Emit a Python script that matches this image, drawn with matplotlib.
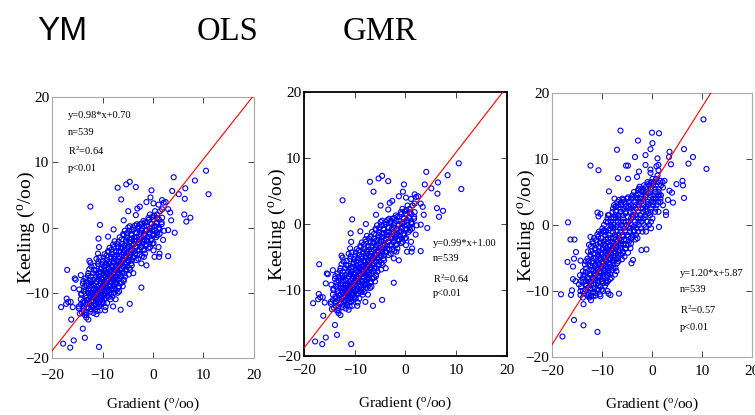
import matplotlib
matplotlib.use('Agg')
import matplotlib.pyplot as plt
import numpy as np

plt.rcParams['font.family'] = ['Liberation Serif', 'DejaVu Serif']
plt.rcParams['mathtext.fontset'] = 'custom'
plt.rcParams['mathtext.rm'] = 'Liberation Serif'
plt.rcParams['mathtext.it'] = 'Liberation Serif:italic'

# gradient values shared by the YM and OLS panels
gradient = [
    -14.6, -14.3, -14.7, -13.9, -14.2, -13.8, -14.1,
    -13.4, -13.6, -13.3, -13.7, -13.5,
    -12.9, -13.2, -12.8, -13.1, -12.9, -13.2,
    -12.6, -12.4, -12.7, -12.3, -12.6, -12.4,
    -11.9, -12.2, -11.8, -12.1, -11.9, -12.2, -11.8,
    -11.6, -11.3, -11.7, -11.4, -11.6, -11.3, -11.5,
    -10.9, -11.2, -10.8, -11.1, -10.9, -11.2, -10.8, -11.0,
    -10.6, -10.3, -10.7, -10.4, -10.6, -10.3, -10.5, -10.7,
    -9.9, -10.2, -9.8, -10.1, -9.9, -10.2, -9.8, -10.0,
    -9.6, -9.3, -9.7, -9.4, -9.6, -9.3, -9.5, -9.7, -9.4,
    -8.9, -9.2, -8.8, -9.1, -8.9, -9.2, -8.8, -9.0, -9.1,
    -8.6, -8.3, -8.7, -8.4, -8.6, -8.3, -8.5, -8.7, -8.4,
    -7.9, -8.2, -7.8, -8.1, -7.9, -8.2, -7.8, -8.0, -8.1,
    -7.6, -7.3, -7.7, -7.4, -7.6, -7.3, -7.5, -7.7, -7.4,
    -6.9, -7.2, -6.8, -7.1, -6.9, -7.2, -6.8, -7.0,
    -6.6, -6.3, -6.7, -6.4, -6.6, -6.3, -6.5, -6.7,
    -5.9, -6.2, -5.8, -6.1, -5.9, -6.2, -5.8, -6.0,
    -5.6, -5.3, -5.7, -5.4, -5.6, -5.3, -5.5,
    -4.9, -5.2, -4.8, -5.1, -4.9, -5.2, -4.8,
    -4.6, -4.3, -4.7, -4.4, -4.6, -4.3, -4.5,
    -3.9, -4.2, -3.8, -4.1, -3.9, -4.2,
    -3.6, -3.3, -3.7, -3.4, -3.6, -3.3,
    -2.9, -3.2, -2.8, -3.1, -2.9,
    -2.6, -2.3, -2.7, -2.4, -2.6, -2.3,
    -1.9, -2.2, -1.8, -2.1, -1.9,
    -1.6, -1.3, -1.7, -1.4, -1.6,
    -0.9, -1.2, -0.8, -1.1, -0.9,
    -0.6, -0.3, -0.7, -0.4, -0.6,
    0.1, -0.2, 0.2, -0.1, 0.1,
    0.4, 0.7, 0.3, 0.6, 1.1, 0.8, 1.2, 0.9, 1.1,
    1.4, 1.7, 1.3, 2.1, 1.8, 2.2,
    10.5, 11.0, 8.3, 4.1, 3.8, 5.1, 6.4, 6.3, 6.2, 6.6,
    7.4, 4.3, 3.4, 3.0, 2.5, 1.8, 3.0, -0.3, 0.1, -0.5,
    -1.3, -2.6, -3.4, -3.1, -3.4, -4.6, -5.3, -4.9, -7.0, -6.3,
    -5.8, -7.8, -8.9, -10.5, -10.8, -12.4, -10.7, -10.9, -12.6, -12.4,
    -17.0, -14.3, -15.5, -15.3, -15.7, -17.1, -16.3, -17.2, -16.8, -18.2,
    -15.9, -16.2, -13.9, -13.5, -15.7, -17.8, -16.4, -10.7, -6.4, -4.6,
    -2.3, -3.9, -14.7, -14.5, -13.2, -12.8, -11.2, -10.5, -9.5, -7.9,
    1.2, 1.3, 0.3, -1.3, -1.8, 0.1, 2.0, 3.0, 3.6, 1.1,
    # points between the columns above
    -14.2, -14.3,
    -13.8, -13.7, -13.8, -13.7,
    -13.2, -13.3, -13.2, -13.3, -13.2,
    -12.8, -12.7, -12.8, -12.7, -12.8,
    -12.2, -12.3, -12.2, -12.3, -12.2, -12.3,
    -11.7, -11.8, -11.7, -11.8, -11.7, -11.8,
    -11.2, -11.3, -11.2, -11.3, -11.2, -11.3, -11.2,
    -10.8, -10.7, -10.8, -10.7, -10.8, -10.7, -10.8,
    -10.2, -10.3, -10.2, -10.3, -10.2, -10.3, -10.2, -10.3,
    -9.8, -9.7, -9.8, -9.7, -9.8, -9.7, -9.8,
    -9.2, -9.3, -9.2, -9.3, -9.2, -9.3, -9.2, -9.3,
    -8.8, -8.7, -8.8, -8.7, -8.8, -8.7, -8.8, -8.7,
    -8.2, -8.3, -8.2, -8.3, -8.2, -8.3, -8.2, -8.3,
    -7.8, -7.7, -7.8, -7.7, -7.8, -7.7, -7.8, -7.7,
    -7.2, -7.3, -7.2, -7.3, -7.2, -7.3, -7.2, -7.3,
    -6.8, -6.7, -6.8, -6.7, -6.8, -6.7, -6.8,
    -6.2, -6.3, -6.2, -6.3, -6.2, -6.3, -6.2,
    -5.8, -5.7, -5.8, -5.7, -5.8, -5.7, -5.8,
    -5.2, -5.3, -5.2, -5.3, -5.2, -5.3,
    -4.8, -4.7, -4.8, -4.7, -4.8, -4.7,
    -4.2, -4.3, -4.2, -4.3, -4.2,
    -3.8, -3.7, -3.8, -3.7, -3.8,
    -3.2, -3.3, -3.2, -3.3, -3.2,
    -2.8, -2.7, -2.8, -2.7,
    -2.2, -2.3, -2.2, -2.3, -2.2,
    -1.8, -1.7, -1.8, -1.7,
    -1.2, -1.3, -1.2, -1.3,
    -0.8, -0.7, -0.8, -0.7,
    -0.2, -0.3, -0.2, -0.3,
    0.2, 0.3, 0.2,
    0.8, 0.7, 0.8,
    1.2, 1.3,
    1.8, 1.7,
]

keeling_ym = [
    -9.5, -11.0, -12.4, -8.6, -10.1, -11.6, -13.0,
    -7.8, -9.1, -10.5, -12.1, -13.4,
    -7.4, -8.9, -10.0, -11.1, -12.4, -13.8,
    -6.4, -8.1, -9.4, -10.6, -11.6, -12.9,
    -7.0, -8.4, -9.6, -10.2, -11.1, -12.0, -13.1,
    -5.9, -7.6, -8.8, -9.9, -10.7, -11.8, -12.6,
    -5.6, -7.1, -8.0, -9.1, -10.0, -10.9, -11.6, -12.8,
    -4.6, -6.4, -7.5, -8.6, -9.3, -10.3, -11.1, -12.1,
    -5.1, -6.1, -7.0, -8.0, -8.9, -9.6, -10.5, -11.4,
    -4.1, -5.5, -6.6, -7.5, -8.3, -9.1, -10.1, -11.0, -12.2,
    -3.6, -5.0, -6.1, -7.0, -7.8, -8.6, -9.5, -10.4, -11.6,
    -3.1, -4.5, -5.6, -6.5, -7.4, -8.2, -9.1, -10.0, -11.0,
    -2.6, -4.0, -5.1, -6.0, -7.0, -7.8, -8.7, -9.5, -10.6,
    -2.1, -3.6, -4.8, -5.8, -6.8, -7.6, -8.5, -9.4, -11.0,
    -3.0, -4.2, -5.2, -6.2, -7.1, -8.0, -9.0, -10.0,
    -1.5, -3.0, -4.5, -5.5, -6.5, -7.5, -8.6, -9.8,
    -1.0, -2.5, -3.8, -5.0, -6.0, -7.0, -8.0, -9.0,
    -0.5, -2.0, -3.5, -4.5, -5.5, -6.6, -7.5,
    0.0, -1.5, -2.8, -4.0, -5.0, -6.0, -7.2,
    0.2, -1.0, -2.2, -3.5, -4.5, -5.5, -6.5,
    0.0, -1.2, -2.5, -3.5, -4.5, -5.8,
    0.3, -0.8, -2.0, -3.0, -4.0, -5.0,
    0.0, -1.5, -2.5, -3.5, -4.8,
    0.5, -0.5, -1.8, -3.0, -4.2, -5.5,
    1.0, -0.2, -1.2, -2.5, -3.5,
    0.8, -0.5, -1.8, -2.8, -4.0,
    1.5, 0.2, -1.0, -2.0, -3.2,
    2.0, 0.5, -0.8, -2.0, -3.0,
    1.2, 0.0, -1.2, -2.5, -3.5,
    2.5, 0.8, -0.5, -1.5, 3.5, 1.5, 0.0, -1.2, -3.0,
    2.5, 0.5, -1.0, 3.8, 1.5, -0.5,
    8.7, 5.1, 7.2, 7.7, 5.6, 5.1, 6.0, 4.4, 2.0, 0.9,
    1.5, -0.8, 2.3, 2.8, 3.9, 4.2, -4.4, 5.7, 3.7, 4.6,
    3.9, 3.2, 1.9, 2.9, 6.2, 7.0, 6.6, 2.5, 6.1, 4.3,
    1.1, -0.3, -1.4, 0.4, -1.7, 3.2, -3.0, -4.0, -5.1, -5.4,
    -6.5, -7.3, -7.8, -8.0, -9.3, -10.9, -11.4, -11.7, -11.4, -12.2,
    -12.2, -14.1, -15.5, -16.9, -17.3, -17.8, -18.4, -18.3, -12.6, -11.7,
    -9.2, -7.0, -12.1, -13.2, -13.4, -14.1, -13.3, -12.7, -12.7, -12.1,
    -4.5, -4.0, -4.5, -5.8, -4.5, -2.4, -1.9, -0.4, 1.1, -0.2,
    -10.3, -11.8,
    -8.2, -9.8, -11.3, -12.7,
    -8.3, -9.5, -10.8, -11.8, -13.0,
    -7.0, -8.6, -9.7, -11.0, -12.2,
    -6.0, -7.5, -8.9, -10.0, -11.4, -12.5,
    -6.5, -8.0, -9.3, -10.4, -11.3, -12.3,
    -4.8, -6.6, -8.3, -9.5, -10.4, -11.3, -12.2,
    -5.2, -6.9, -7.9, -8.9, -9.7, -10.6, -11.5,
    -5.6, -6.8, -7.8, -8.3, -9.2, -10.0, -10.8, -11.8,
    -4.6, -6.0, -7.3, -8.5, -9.4, -10.3, -11.6,
    -4.3, -5.8, -6.9, -7.4, -8.2, -9.0, -9.8, -10.8,
    -3.8, -5.2, -6.4, -7.2, -8.0, -8.9, -9.7, -10.6,
    -3.4, -4.8, -5.9, -6.8, -7.5, -8.4, -9.3, -10.2,
    -3.0, -4.4, -5.4, -6.4, -7.3, -8.1, -9.0, -10.0,
    -2.5, -3.8, -5.0, -6.0, -6.6, -7.6, -8.6, -9.6,
    -2.2, -3.6, -4.8, -5.8, -6.8, -7.8, -9.2,
    -1.8, -3.2, -4.2, -5.3, -6.4, -7.4, -8.4,
    -1.2, -2.8, -4.0, -5.0, -6.0, -7.0, -8.2,
    -0.9, -2.4, -3.2, -4.3, -5.4, -6.4,
    -0.5, -1.8, -3.0, -4.2, -5.2, -6.2,
    -0.4, -1.7, -2.8, -4.0, -5.0,
    -0.3, -1.5, -2.6, -3.6, -4.6,
    0.5, -0.9, -2.0, -3.0, -4.2,
    0.2, -1.0, -2.2, -3.4,
    0.6, -0.8, -2.0, -3.0, -4.4,
    0.2, -1.0, -2.2, -3.4,
    0.8, -0.4, -1.5, -2.6,
    1.2, -0.2, -1.4, -2.5,
    1.6, 0.6, -0.5, -1.8,
    1.8, 0.3, -1.0,
    2.0, 0.6, -0.8,
    1.2, -0.3,
    2.8, 0.8,
]

keeling_ols = [
    -9.2, -10.7, -12.1, -8.3, -9.8, -11.3, -12.7,
    -7.5, -8.8, -10.2, -11.8, -13.1,
    -7.1, -8.6, -9.7, -10.8, -12.1, -13.5,
    -6.1, -7.8, -9.1, -10.3, -11.3, -12.6,
    -6.7, -8.1, -9.3, -9.9, -10.8, -11.7, -12.8,
    -5.6, -7.3, -8.5, -9.6, -10.4, -11.5, -12.3,
    -5.3, -6.8, -7.7, -8.8, -9.7, -10.6, -11.3, -12.5,
    -4.3, -6.1, -7.2, -8.3, -9.0, -10.0, -10.8, -11.8,
    -4.8, -5.8, -6.7, -7.7, -8.6, -9.3, -10.2, -11.1,
    -3.8, -5.2, -6.3, -7.2, -8.0, -8.8, -9.8, -10.7, -11.9,
    -3.3, -4.7, -5.8, -6.7, -7.5, -8.3, -9.2, -10.1, -11.3,
    -2.8, -4.2, -5.3, -6.2, -7.1, -7.9, -8.8, -9.7, -10.7,
    -2.3, -3.7, -4.8, -5.7, -6.7, -7.5, -8.4, -9.2, -10.3,
    -1.8, -3.3, -4.5, -5.5, -6.5, -7.3, -8.2, -9.1, -10.7,
    -2.7, -3.9, -4.9, -5.9, -6.8, -7.7, -8.7, -9.7,
    -1.2, -2.7, -4.2, -5.2, -6.2, -7.2, -8.3, -9.5,
    -0.7, -2.2, -3.5, -4.7, -5.7, -6.7, -7.7, -8.7,
    -0.2, -1.7, -3.2, -4.2, -5.2, -6.3, -7.2,
    0.3, -1.2, -2.5, -3.7, -4.7, -5.7, -6.9,
    0.5, -0.7, -1.9, -3.2, -4.2, -5.2, -6.2,
    0.3, -0.9, -2.2, -3.2, -4.2, -5.5,
    0.6, -0.5, -1.7, -2.7, -3.7, -4.7,
    0.3, -1.2, -2.2, -3.2, -4.5,
    0.8, -0.2, -1.5, -2.7, -3.9, -5.2,
    1.3, 0.1, -0.9, -2.2, -3.2,
    1.1, -0.2, -1.5, -2.5, -3.7,
    1.8, 0.5, -0.7, -1.7, -2.9,
    2.3, 0.8, -0.5, -1.7, -2.7,
    1.5, 0.3, -0.9, -2.2, -3.2,
    2.8, 1.1, -0.2, -1.2, 3.8, 1.8, 0.3, -0.9, -2.7,
    2.8, 0.8, -0.7, 4.1, 1.8, -0.2,
    9.2, 5.3, 7.4, 7.9, 6.0, 5.4, 6.3, 4.6, 2.4, 1.1,
    2.0, -0.6, 2.6, 3.1, 4.2, 4.5, -4.1, 6.0, 4.0, 4.9,
    4.2, 3.5, 2.2, 3.2, 6.5, 7.3, 6.9, 2.8, 6.4, 4.9,
    1.4, 0.0, -1.1, 0.7, -1.4, 3.6, -2.7, -3.7, -4.8, -5.1,
    -6.1, -7.0, -7.5, -7.6, -9.0, -10.6, -11.1, -11.4, -11.1, -12.0,
    -11.9, -13.9, -15.3, -16.8, -17.2, -17.8, -18.2, -18.2, -12.4, -11.5,
    -8.9, -6.7, -11.8, -12.9, -13.1, -13.8, -13.0, -12.4, -12.4, -11.8,
    -4.2, -3.7, -4.2, -5.5, -4.2, -2.1, -1.6, -0.1, 1.4, 0.1,
    -10.0, -11.5,
    -7.9, -9.5, -11.0, -12.4,
    -8.0, -9.2, -10.5, -11.5, -12.7,
    -6.7, -8.3, -9.4, -10.7, -11.9,
    -5.7, -7.2, -8.6, -9.7, -11.1, -12.2,
    -6.2, -7.7, -9.0, -10.1, -11.0, -12.0,
    -4.5, -6.3, -8.0, -9.2, -10.1, -11.0, -11.9,
    -4.9, -6.6, -7.6, -8.6, -9.4, -10.3, -11.2,
    -5.3, -6.5, -7.5, -8.0, -8.9, -9.7, -10.5, -11.5,
    -4.3, -5.7, -7.0, -8.2, -9.1, -10.0, -11.3,
    -4.0, -5.5, -6.6, -7.1, -7.9, -8.7, -9.5, -10.5,
    -3.5, -4.9, -6.1, -6.9, -7.7, -8.6, -9.4, -10.3,
    -3.1, -4.5, -5.6, -6.5, -7.2, -8.1, -9.0, -9.9,
    -2.7, -4.1, -5.1, -6.1, -7.0, -7.8, -8.7, -9.7,
    -2.2, -3.5, -4.7, -5.7, -6.3, -7.3, -8.3, -9.3,
    -1.9, -3.3, -4.5, -5.5, -6.5, -7.5, -8.9,
    -1.5, -2.9, -3.9, -5.0, -6.1, -7.1, -8.1,
    -0.9, -2.5, -3.7, -4.7, -5.7, -6.7, -7.9,
    -0.6, -2.1, -2.9, -4.0, -5.1, -6.1,
    -0.2, -1.5, -2.7, -3.9, -4.9, -5.9,
    -0.1, -1.4, -2.5, -3.7, -4.7,
    0.0, -1.2, -2.3, -3.3, -4.3,
    0.8, -0.6, -1.7, -2.7, -3.9,
    0.5, -0.7, -1.9, -3.1,
    0.9, -0.5, -1.7, -2.7, -4.1,
    0.5, -0.7, -1.9, -3.1,
    1.1, -0.1, -1.2, -2.3,
    1.5, 0.1, -1.1, -2.2,
    1.9, 0.9, -0.2, -1.5,
    2.1, 0.6, -0.7,
    2.3, 0.9, -0.5,
    1.5, 0.0,
    3.1, 1.1,
]

# GMR panel
gradient_gmr = [
    -14.6, -14.3, -13.9, -14.2, -13.8,
    -13.4, -13.7, -13.3, -13.6,
    -12.9, -13.2, -12.8, -13.1, -12.9,
    -12.6, -12.3, -12.7, -12.4, -12.6, -12.3, -12.5,
    -11.9, -12.2, -11.8, -12.1, -11.9, -12.2, -11.8,
    -11.6, -11.3, -11.7, -11.4, -11.6, -11.3, -11.5, -11.7,
    -10.9, -11.2, -10.8, -11.1, -10.9, -11.2, -10.8, -11.0,
    -10.6, -10.3, -10.7, -10.4, -10.6, -10.3, -10.5, -10.7, -10.4,
    -9.9, -10.2, -9.8, -10.1, -9.9, -10.2, -9.8, -10.0, -10.1,
    -9.6, -9.3, -9.7, -9.4, -9.6, -9.3, -9.5, -9.7, -9.4,
    -8.9, -9.2, -8.8, -9.1, -8.9, -9.2, -8.8, -9.0, -9.1, -8.9,
    -8.6, -8.3, -8.7, -8.4, -8.6, -8.3, -8.5, -8.7, -8.4,
    -7.9, -8.2, -7.8, -8.1, -7.9, -8.2, -7.8, -8.0, -8.1,
    -7.6, -7.3, -7.7, -7.4, -7.6, -7.3, -7.5, -7.7, -7.4,
    -6.9, -7.2, -6.8, -7.1, -6.9, -7.2, -6.8, -7.0, -7.1,
    -6.6, -6.3, -6.7, -6.4, -6.6, -6.3, -6.5, -6.7,
    -5.9, -6.2, -5.8, -6.1, -5.9, -6.2, -5.8, -6.0,
    -5.6, -5.3, -5.7, -5.4, -5.6, -5.3, -5.5,
    -4.9, -5.2, -4.8, -5.1, -4.9, -5.2, -4.8,
    -4.6, -4.3, -4.7, -4.4, -4.6, -4.3,
    -3.9, -4.2, -3.8, -4.1, -3.9, -4.2,
    -3.6, -3.3, -3.7, -3.4, -3.6, -3.3,
    -2.9, -3.2, -2.8, -3.1, -2.9,
    -2.6, -2.3, -2.7, -2.4, -2.6,
    -1.9, -2.2, -1.8, -2.1, -1.9,
    -1.6, -1.3, -1.7, -1.4, -1.6,
    -0.9, -1.2, -0.8, -1.1, -0.9, -1.2,
    -0.6, -0.3, -0.7, -0.4, -0.6,
    0.1, -0.2, 0.2, -0.1, 0.1, -0.2,
    0.4, 0.7, 0.3, 0.6, 1.1, 0.8, 1.2, 0.9,
    1.4, 1.7, 1.3, 2.1, 1.8, 2.2,
    10.3, 10.9, 8.2, 7.3, 6.4, 6.2, 6.1, 6.4, 4.9, 4.0,
    3.8, 3.4, 3.5, 1.4, 0.0, 0.1, -0.3, -0.3, -0.3, 0.9,
    1.3, 1.3, 1.1, -1.3, -2.8, -3.4, -3.0, -2.6, -1.3, -4.8,
    -5.2, -4.8, -6.3, -7.0, -6.8, -8.6, -10.7, -12.3, -10.9, -10.7,
    -10.3, -12.3, -16.8, -16.3, -15.5, -15.6, -15.2, -16.9, -14.3, -15.8,
    -15.8, -15.3, -14.4, -16.0, -16.2, -18.2, -13.7, -15.6, -13.7, -10.9,
    -17.9, -6.6, -8.3, -8.7, -10.3, -11.3, -12.2, -2.1, -1.1, -3.8,
    -4.1, 1.4, 2.8, 2.8, 3.2, 4.2, 3.5, 2.2, 1.7, 2.5,
    1.5, 0.5, -1.7, -2.5, -2.8, -6.8, -7.3, -7.5, -8.8, -9.7,
    -8.1,
    # points between the columns above
    -14.2, -14.3,
    -13.8, -13.7, -13.8,
    -13.2, -13.3, -13.2, -13.3,
    -12.8, -12.7, -12.8, -12.7, -12.8, -12.7,
    -12.2, -12.3, -12.2, -12.3, -12.2, -12.3, -12.2,
    -11.8, -11.7, -11.8, -11.7, -11.8, -11.7, -11.8,
    -11.2, -11.3, -11.2, -11.3, -11.2, -11.3, -11.2, -11.3,
    -10.8, -10.7, -10.8, -10.7, -10.8, -10.7, -10.8, -10.7,
    -10.2, -10.3, -10.2, -10.3, -10.2, -10.3, -10.2, -10.3,
    -9.8, -9.7, -9.8, -9.7, -9.8, -9.7, -9.8, -9.7, -9.8,
    -9.2, -9.3, -9.2, -9.3, -9.2, -9.3, -9.2, -9.3, -9.2,
    -8.8, -8.7, -8.8, -8.7, -8.8, -8.7, -8.8, -8.7, -8.8,
    -8.2, -8.3, -8.2, -8.3, -8.2, -8.3, -8.2, -8.3,
    -7.8, -7.7, -7.8, -7.7, -7.8, -7.7, -7.8, -7.7,
    -7.2, -7.3, -7.2, -7.3, -7.2, -7.3, -7.2, -7.3,
    -6.8, -6.7, -6.8, -6.7, -6.8, -6.7, -6.8,
    -6.2, -6.3, -6.2, -6.3, -6.2, -6.3, -6.2,
    -5.8, -5.7, -5.8, -5.7, -5.8, -5.7, -5.8,
    -5.2, -5.3, -5.2, -5.3, -5.2, -5.3,
    -4.8, -4.7, -4.8, -4.7, -4.8, -4.7,
    -4.2, -4.3, -4.2, -4.3, -4.2,
    -3.8, -3.7, -3.8, -3.7, -3.8,
    -3.2, -3.3, -3.2, -3.3, -3.2,
    -2.8, -2.7, -2.8, -2.7, -2.8,
    -2.2, -2.3, -2.2, -2.3, -2.2,
    -1.8, -1.7, -1.8, -1.7,
    -1.2, -1.3, -1.2, -1.3, -1.2,
    -0.8, -0.7, -0.8, -0.7,
    -0.2, -0.3, -0.2, -0.3, -0.2,
    0.2, 0.3, 0.2,
    0.8, 0.7, 0.8, 0.7,
    1.2, 1.3, 1.2,
    1.8, 1.7,
]

keeling_gmr = [
    -9.0, -10.6, -8.1, -9.4, -11.0,
    -6.0, -7.6, -9.0, -10.4,
    -5.1, -6.6, -8.0, -9.2, -10.6,
    -3.0, -4.5, -6.0, -7.4, -8.6, -9.8, -11.0,
    -2.5, -4.0, -5.5, -6.8, -8.0, -9.0, -10.2,
    -2.0, -3.5, -5.0, -6.2, -7.3, -8.3, -9.5, -10.8,
    -1.4, -3.0, -4.5, -5.5, -6.5, -7.5, -8.5, -9.8,
    -1.0, -2.5, -4.0, -5.0, -6.0, -7.0, -8.0, -9.2, -10.5,
    -0.5, -2.0, -3.5, -4.5, -5.5, -6.5, -7.5, -8.5, -9.8,
    0.0, -1.5, -3.0, -4.0, -5.0, -6.0, -7.0, -8.0, -9.2,
    1.0, -1.0, -2.5, -3.5, -4.5, -5.5, -6.5, -7.5, -8.8, -10.0,
    1.5, 0.0, -1.5, -3.0, -4.0, -5.0, -6.0, -7.0, -8.2,
    2.0, 0.5, -1.0, -2.5, -3.5, -4.5, -5.5, -6.8, -8.0,
    3.0, 1.5, 0.0, -1.5, -2.8, -4.0, -5.0, -6.0, -7.5,
    3.5, 2.0, 0.5, -1.0, -2.5, -3.5, -4.5, -5.8, -7.0,
    3.8, 2.5, 1.0, -0.5, -2.0, -3.0, -4.0, -5.5,
    4.0, 3.0, 1.5, 0.0, -1.5, -2.8, -4.0, -5.2,
    3.5, 2.0, 0.5, -1.0, -2.2, -3.5, -4.8,
    4.0, 2.8, 1.2, 0.0, -1.5, -3.0, -4.2,
    3.5, 2.0, 0.5, -1.0, -2.5, -3.5,
    4.5, 3.0, 1.5, 0.0, -1.5, -2.8,
    5.0, 3.5, 2.0, 0.5, -1.0, -2.2,
    4.0, 2.5, 1.0, -0.5, -2.0,
    5.5, 4.0, 3.0, 1.5, 0.0,
    5.0, 3.5, 2.0, 0.5, -1.0,
    6.0, 4.5, 3.0, 1.5, 0.0,
    6.5, 5.0, 3.5, 2.0, 0.5, -1.0,
    6.0, 4.5, 3.0, 1.5, 0.0,
    7.0, 5.5, 4.0, 2.5, 1.0, -0.5,
    6.5, 5.0, 3.5, 2.0, 7.5, 6.0, 4.5, 3.0,
    5.5, 3.5, 2.0, 6.5, 4.5, 3.0,
    16.0, 8.5, 10.3, 9.3, 11.5, 6.0, 6.7, 4.1, 6.2, 4.9,
    9.2, 10.3, 11.1, 13.9, 14.0, 12.4, 11.5, 8.4, 7.9, 8.9,
    8.3, 9.1, 10.1, 10.6, 12.8, 10.3, 7.3, 8.1, 9.1, 9.0,
    9.0, 7.0, 14.3, 11.4, 7.1, 5.1, 8.3, 9.0, 1.9, 1.3,
    1.7, -1.8, 0.4, -2.2, -2.2, -5.1, -4.1, -5.6, -5.4, -6.3,
    -8.2, -8.5, -7.6, -9.9, -10.6, -10.5, -12.0, -14.4, -15.2, -16.2,
    -16.9, -10.4, -10.6, -10.4, -10.8, -10.7, -11.4, -3.8, -3.7, -5.3,
    -5.8, -0.3, 1.5, 2.0, 3.8, 3.4, 5.2, 5.7, 6.7, 6.7,
    4.5, 4.0, 5.1, 5.8, 5.3, 1.4, 2.8, 4.0, 1.5, -0.9,
    -0.2,
    -8.5, -10.0,
    -7.0, -8.6, -10.0,
    -5.5, -7.2, -8.5, -9.8,
    -4.0, -5.5, -7.0, -8.2, -9.5, -10.8,
    -3.2, -4.8, -6.2, -7.6, -8.6, -9.6, -10.7,
    -2.8, -4.3, -5.8, -7.0, -8.0, -9.0, -10.2,
    -2.3, -3.8, -5.0, -6.0, -7.0, -8.0, -9.0, -10.3,
    -1.8, -3.3, -4.8, -5.8, -6.8, -7.8, -8.8, -9.8,
    -1.2, -2.8, -4.2, -5.2, -6.2, -7.2, -8.2, -9.3,
    -1.0, -2.5, -3.8, -4.8, -5.8, -6.8, -7.8, -8.8, -10.0,
    0.5, -1.0, -2.2, -3.2, -4.2, -5.2, -6.2, -7.2, -8.4,
    0.5, -0.8, -2.0, -3.3, -4.3, -5.3, -6.3, -7.3, -8.5,
    1.0, -0.5, -2.0, -3.2, -4.2, -5.2, -6.3, -7.5,
    2.5, 1.0, -0.5, -2.0, -3.2, -4.3, -5.3, -6.5,
    2.8, 1.2, -0.3, -1.8, -3.0, -4.2, -5.2, -6.5,
    3.0, 1.5, 0.0, -1.5, -2.8, -3.8, -5.0,
    3.4, 2.0, 0.5, -1.0, -2.3, -3.5, -4.5,
    3.8, 2.4, 1.0, -0.5, -1.8, -3.0, -4.3,
    3.2, 1.8, 0.5, -0.8, -2.2, -3.6,
    4.2, 2.8, 1.2, -0.3, -1.8, -3.0,
    4.0, 2.5, 1.0, -0.5, -2.0,
    4.2, 2.8, 1.2, -0.3, -1.8,
    4.5, 3.0, 1.5, 0.0, -1.5,
    4.8, 3.5, 2.0, 0.5, -1.0,
    5.2, 4.0, 2.5, 1.0, -0.5,
    5.5, 4.0, 2.5, 1.0,
    5.8, 4.2, 2.8, 1.2, -0.3,
    6.2, 4.8, 3.2, 1.8,
    6.5, 5.0, 3.5, 2.0, 0.5,
    6.0, 4.5, 3.0,
    7.0, 5.5, 4.0, 2.5,
    6.5, 5.0, 3.5,
    6.0, 4.0,
]

titles = ['YM', 'OLS', 'GMR']
slopes = [0.98, 0.99, 1.20]
intercepts = [0.70, 1.00, 5.87]
n_obs = 539
r2 = [0.64, 0.64, 0.57]

fig = plt.figure(figsize=(7.55, 4.15), dpi=100)
fig.patch.set_facecolor('white')

# axes rectangles
rects = [[0.0689, 0.1373, 0.2675, 0.629],
         [0.4026, 0.1422, 0.2689, 0.636],
         [0.7311, 0.1398, 0.2649, 0.636]]
xs_data = [gradient, gradient, gradient_gmr]
ys_data = [keeling_ym, keeling_ols, keeling_gmr]
text_pos = [(-16.8, [17.2, 14.5, 11.8, 9.0]),
            (5.4, [-2.9, -5.3, -8.3, -10.5]),
            (5.6, [-7.3, -9.8, -12.9, -15.6])]
ylab_x = [-0.125, -0.133, -0.13]
xpad = [8, 6, 6]

for i in range(3):
    ax = fig.add_axes(rects[i])
    ax.scatter(xs_data[i], ys_data[i], s=13, facecolors='none',
               edgecolors='#0000ff', linewidths=0.8, zorder=2)
    xl = np.array([-20, 20])
    ax.plot(xl, slopes[i]*xl + intercepts[i], color='red', lw=0.8, zorder=3)
    ax.set_xlim(-20, 20)
    ax.set_ylim(-20, 20)
    ax.set_xticks([-20, -10, 0, 10, 20])
    ax.set_yticks([-20, -10, 0, 10, 20])
    ax.tick_params(direction='in', top=True, right=True, length=4,
                   width=0.6, color='#262626', labelsize=11)
    ax.tick_params(axis='x', pad=xpad[i])
    ax.tick_params(axis='y', pad=2)
    for sp in ax.spines.values():
        if i == 1:
            sp.set_color('black')
            sp.set_linewidth(1.3)
        else:
            sp.set_color('#a8a8a8')
            sp.set_linewidth(0.8)
    ax.set_xlabel(r'Gradient ($^{\mathrm{o}}$/oo)', fontsize=11)
    ax.xaxis.set_label_coords(0.5, -0.146)
    ax.set_ylabel(r'Keeling ($^{\mathrm{o}}$/oo)', fontsize=14, va='center')
    ax.yaxis.set_label_coords(ylab_x[i], 0.5)

    tx, tys = text_pos[i]
    lines = ['y=%.2f*x+%.2f' % (slopes[i], intercepts[i]),
             'n=%d' % n_obs,
             r'R$^{2}$=%.2f' % r2[i],
             'p<0.01']
    for ty, s in zip(tys, lines):
        ax.text(tx, ty, s, fontsize=7.5, va='center', ha='left')

fig.text(62/755, 1 - 40/415, titles[0], ha='center', va='baseline',
         fontsize=24, family=['Liberation Sans Narrow', 'Liberation Sans'])
fig.text(228/755, 1 - 40/415, titles[1], ha='center', va='baseline',
         fontsize=23.5, family=['Liberation Serif'])
fig.text(380/755, 1 - 40/415, titles[2], ha='center', va='baseline',
         fontsize=23.5, family=['Liberation Serif'])

fig.savefig('out.png', dpi=100)
